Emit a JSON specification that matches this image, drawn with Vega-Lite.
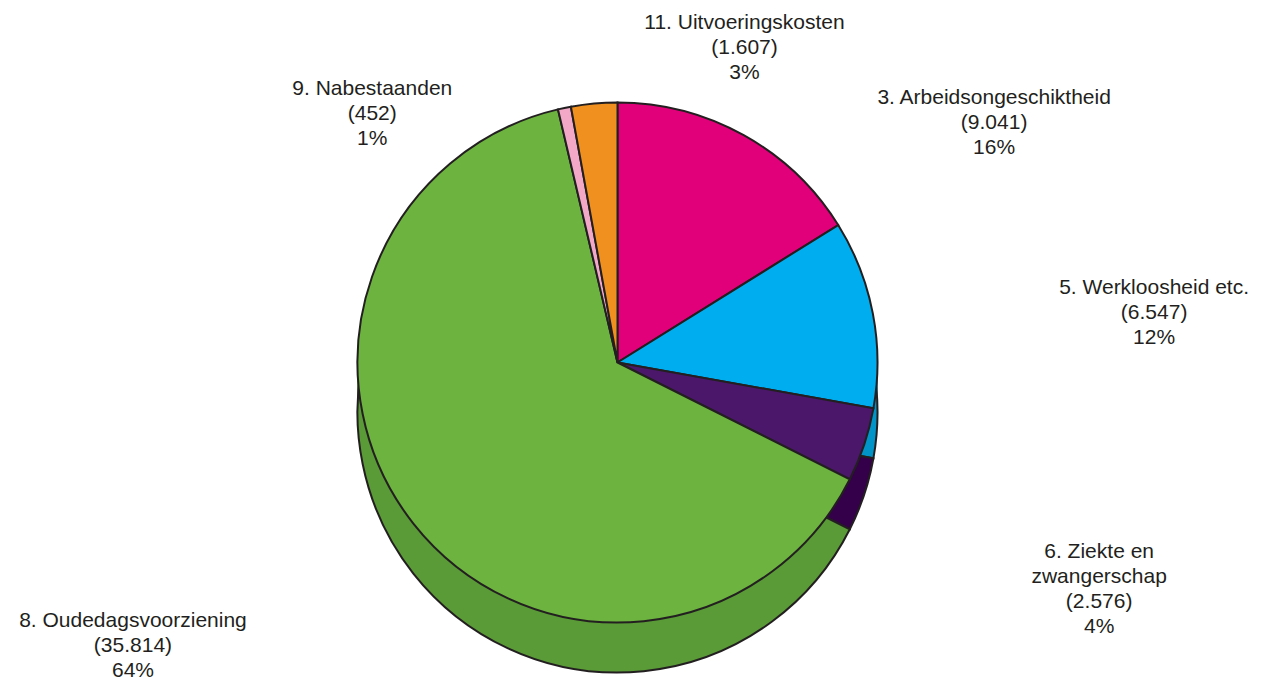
{
  "$schema": "https://vega.github.io/schema/vega-lite/v6.json",
  "autosize": {"type": "fit", "contains": "padding"},
  "width": 1262,
  "height": 680,
  "padding": {"left": 0, "right": 26, "top": 34, "bottom": 0},
  "background": "white",
  "config": {"view": {"stroke": null}},
  "data": {
    "values": [
      {"nr": 3, "category": "Arbeidsongeschiktheid", "value": 9041, "label": "3. Arbeidsongeschiktheid\n(9.041)\n16%"},
      {"nr": 5, "category": "Werkloosheid etc.", "value": 6547, "label": "5. Werkloosheid etc.\n(6.547)\n12%"},
      {"nr": 6, "category": "Ziekte en zwangerschap", "value": 2576, "label": "6. Ziekte en\nzwangerschap\n(2.576)\n4%"},
      {"nr": 8, "category": "Oudedagsvoorziening", "value": 35814, "label": "8. Oudedagsvoorziening\n(35.814)\n64%"},
      {"nr": 9, "category": "Nabestaanden", "value": 452, "label": "9. Nabestaanden\n(452)\n1%"},
      {"nr": 11, "category": "Uitvoeringskosten", "value": 1607, "label": "11. Uitvoeringskosten\n(1.607)\n3%"}
    ]
  },
  "encoding": {
    "theta": {"field": "value", "type": "quantitative", "stack": true},
    "order": {"field": "nr", "type": "quantitative", "sort": "ascending"}
  },
  "layer": [
    {
      "mark": {"type": "arc", "radius": 260, "yOffset": 10, "strokeWidth": 0},
      "encoding": {"color": {"field": "category", "type": "nominal", "legend": null,
        "scale": {"domain": ["Arbeidsongeschiktheid", "Werkloosheid etc.", "Ziekte en zwangerschap", "Oudedagsvoorziening", "Nabestaanden", "Uitvoeringskosten"],
                  "range": ["#b00060", "#0094c8", "#330049", "#5a9a37", "#d88aab", "#c8701a"]}}}
    },
    {
      "mark": {"type": "arc", "radius": 260, "yOffset": 20, "strokeWidth": 0},
      "encoding": {"color": {"field": "category", "type": "nominal", "legend": null,
        "scale": {"domain": ["Arbeidsongeschiktheid", "Werkloosheid etc.", "Ziekte en zwangerschap", "Oudedagsvoorziening", "Nabestaanden", "Uitvoeringskosten"],
                  "range": ["#b00060", "#0094c8", "#330049", "#5a9a37", "#d88aab", "#c8701a"]}}}
    },
    {
      "mark": {"type": "arc", "radius": 260, "yOffset": 30, "strokeWidth": 0},
      "encoding": {"color": {"field": "category", "type": "nominal", "legend": null,
        "scale": {"domain": ["Arbeidsongeschiktheid", "Werkloosheid etc.", "Ziekte en zwangerschap", "Oudedagsvoorziening", "Nabestaanden", "Uitvoeringskosten"],
                  "range": ["#b00060", "#0094c8", "#330049", "#5a9a37", "#d88aab", "#c8701a"]}}}
    },
    {
      "mark": {"type": "arc", "radius": 260, "yOffset": 40, "strokeWidth": 0},
      "encoding": {"color": {"field": "category", "type": "nominal", "legend": null,
        "scale": {"domain": ["Arbeidsongeschiktheid", "Werkloosheid etc.", "Ziekte en zwangerschap", "Oudedagsvoorziening", "Nabestaanden", "Uitvoeringskosten"],
                  "range": ["#b00060", "#0094c8", "#330049", "#5a9a37", "#d88aab", "#c8701a"]}}}
    },
    {
      "mark": {"type": "arc", "radius": 260, "yOffset": 50, "stroke": "#231f20", "strokeWidth": 2},
      "encoding": {"color": {"field": "category", "type": "nominal", "legend": null,
        "scale": {"domain": ["Arbeidsongeschiktheid", "Werkloosheid etc.", "Ziekte en zwangerschap", "Oudedagsvoorziening", "Nabestaanden", "Uitvoeringskosten"],
                  "range": ["#b00060", "#0094c8", "#330049", "#5a9a37", "#d88aab", "#c8701a"]}}}
    },
    {
      "mark": {"type": "arc", "radius": 260, "stroke": "#231f20", "strokeWidth": 2},
      "encoding": {"color": {"field": "category", "type": "nominal", "legend": null,
        "scale": {"domain": ["Arbeidsongeschiktheid", "Werkloosheid etc.", "Ziekte en zwangerschap", "Oudedagsvoorziening", "Nabestaanden", "Uitvoeringskosten"],
                  "range": ["#e2007a", "#00aeef", "#4a176b", "#6db33f", "#f4a8c8", "#f0901e"]}}}
    },
    {
      "mark": {"type": "text", "radius": 300, "dx": 231, "dy": -2, "fontSize": 21, "font": "Liberation Sans", "fill": "#231f20", "lineBreak": "\n", "lineHeight": 25, "align": "center", "baseline": "middle"},
      "encoding": {"text": {"condition": {"test": "datum.nr == 3", "field": "label"}, "value": ""}}
    },
    {
      "mark": {"type": "text", "radius": 300, "dx": 242, "dy": -18, "fontSize": 21, "font": "Liberation Sans", "fill": "#231f20", "lineBreak": "\n", "lineHeight": 25, "align": "center", "baseline": "middle"},
      "encoding": {"text": {"condition": {"test": "datum.nr == 5", "field": "label"}, "value": ""}}
    },
    {
      "mark": {"type": "text", "radius": 300, "dx": 197, "dy": 95, "fontSize": 21, "font": "Liberation Sans", "fill": "#231f20", "lineBreak": "\n", "lineHeight": 25, "align": "center", "baseline": "middle"},
      "encoding": {"text": {"condition": {"test": "datum.nr == 6", "field": "label"}, "value": ""}}
    },
    {
      "mark": {"type": "text", "radius": 300, "dx": -249, "dy": 73, "fontSize": 21, "font": "Liberation Sans", "fill": "#231f20", "lineBreak": "\n", "lineHeight": 25, "align": "center", "baseline": "middle"},
      "encoding": {"text": {"condition": {"test": "datum.nr == 8", "field": "label"}, "value": ""}}
    },
    {
      "mark": {"type": "text", "radius": 300, "dx": -184, "dy": 20, "fontSize": 21, "font": "Liberation Sans", "fill": "#231f20", "lineBreak": "\n", "lineHeight": 25, "align": "center", "baseline": "middle"},
      "encoding": {"text": {"condition": {"test": "datum.nr == 9", "field": "label"}, "value": ""}}
    },
    {
      "mark": {"type": "text", "radius": 300, "dx": 154, "dy": -41, "fontSize": 21, "font": "Liberation Sans", "fill": "#231f20", "lineBreak": "\n", "lineHeight": 25, "align": "center", "baseline": "middle"},
      "encoding": {"text": {"condition": {"test": "datum.nr == 11", "field": "label"}, "value": ""}}
    }
  ],
  "resolve": {"scale": {"color": "independent"}}
}
